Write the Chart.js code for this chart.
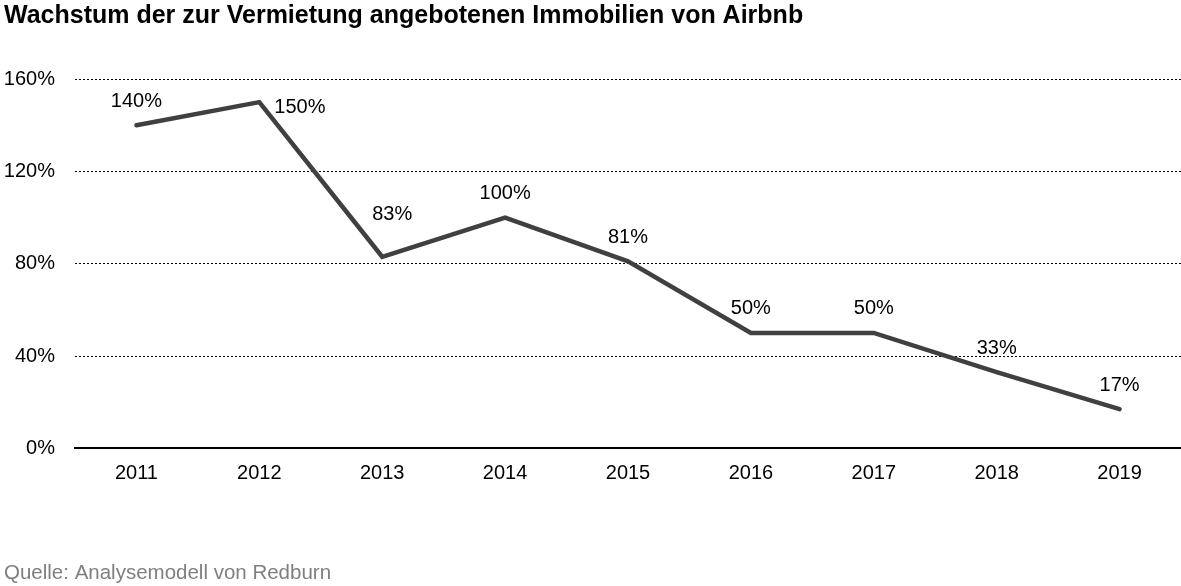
<!DOCTYPE html>
<html>
<head>
<meta charset="utf-8">
<script src="https://cdn.jsdelivr.net/npm/chart.js@4"></script>
<style>
  html, body { margin: 0; padding: 0; background: #fff; }
  #wrap { width: 1181px; height: 586px; position: relative; }
</style>
</head>
<body>
<div id="wrap"><canvas id="c"></canvas></div>
<script>
const chartTitle = 'Wachstum der zur Vermietung angebotenen Immobilien von Airbnb';
const sourceNote = 'Quelle: Analysemodell von Redburn';
const years = ['2011', '2012', '2013', '2014', '2015', '2016', '2017', '2018', '2019'];
const growthPct = [140, 150, 83, 100, 81, 50, 50, 33, 17];
const yTicks = [0, 40, 80, 120, 160];

const FONT = '"Liberation Sans", Arial, sans-serif';

const labelPlugin = {
  id: 'pointLabels',
  afterDatasetsDraw(chart) {
    const ctx = chart.ctx;
    const meta = chart.getDatasetMeta(0);
    const data = chart.data.datasets[0].data;
    const maxVal = Math.max(...data);
    ctx.save();
    ctx.font = '20px ' + FONT;
    ctx.fillStyle = '#000';
    ctx.textBaseline = 'middle';
    meta.data.forEach((pt, i) => {
      const txt = data[i] + '%';
      const prev = i > 0 ? data[i - 1] : null;
      const next = i < data.length - 1 ? data[i + 1] : null;
      const isValley = prev !== null && next !== null && data[i] < prev && data[i] < next;
      if (data[i] === maxVal) {
        // highest point: label at the right side
        ctx.textAlign = 'left';
        ctx.fillText(txt, pt.x + 15, pt.y + 5);
      } else if (isValley) {
        // valley: lift label clear of the steep incoming segment
        ctx.textAlign = 'center';
        ctx.fillText(txt, pt.x + 10, pt.y - 42);
      } else {
        ctx.textAlign = 'center';
        ctx.fillText(txt, pt.x, pt.y - 24);
      }
    });
    ctx.restore();
  }
};

new Chart(document.getElementById('c'), {
  type: 'line',
  data: {
    labels: years,
    datasets: [{
      data: growthPct,
      borderColor: '#404040',
      borderWidth: 4.5,
      borderCapStyle: 'round',
      borderJoinStyle: 'miter',
      pointRadius: 0,
      pointHoverRadius: 0,
      tension: 0,
      fill: false
    }]
  },
  options: {
    responsive: true,
    maintainAspectRatio: false,
    animation: false,
    layout: { padding: { left: 4, right: 0, top: 0, bottom: 0 } },
    plugins: {
      legend: { display: false },
      tooltip: { enabled: false },
      title: {
        display: true,
        text: chartTitle,
        align: 'start',
        color: '#000',
        font: { family: FONT, size: 25, weight: 'bold' },
        padding: { top: 1, bottom: 48 }
      },
      subtitle: {
        display: true,
        position: 'bottom',
        text: sourceNote,
        align: 'start',
        color: '#7f7f7f',
        font: { family: FONT, size: 20.5 },
        padding: { top: 63, bottom: 0 }
      }
    },
    scales: {
      x: {
        offset: true,
        grid: { display: false, drawTicks: false },
        border: { display: true, color: '#000', width: 2 },
        ticks: {
          color: '#000',
          font: { family: FONT, size: 20 },
          padding: 13,
          maxRotation: 0
        }
      },
      y: {
        min: 0,
        max: 160,
        afterBuildTicks: (scale) => { scale.ticks = yTicks.map(v => ({ value: v })); },
        afterFit: (scale) => { scale.width = 71; },
        grid: { color: '#000', lineWidth: 1, drawTicks: false },
        border: { display: false, dash: [2, 2] },
        ticks: {
          color: '#000',
          font: { family: FONT, size: 20 },
          padding: 20,
          callback: (v) => v + '%'
        }
      }
    }
  },
  plugins: [labelPlugin]
});
</script>
</body>
</html>
